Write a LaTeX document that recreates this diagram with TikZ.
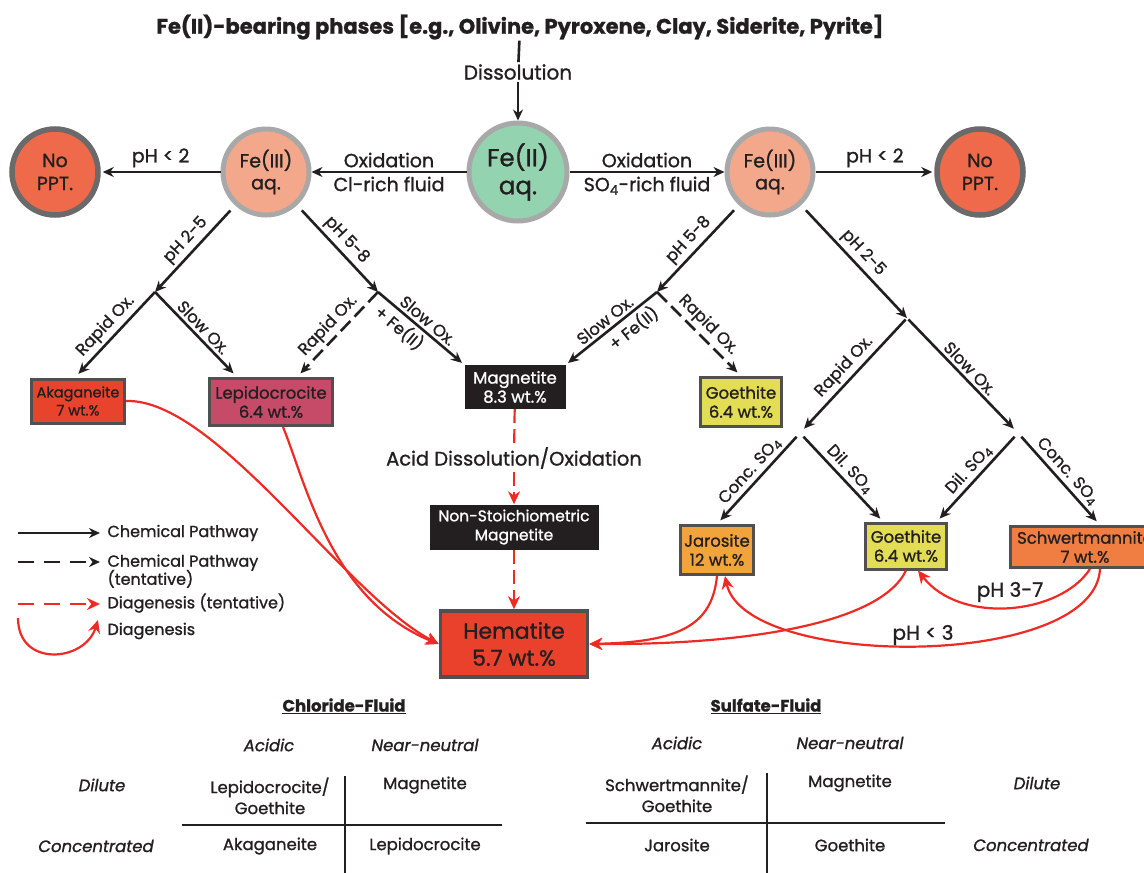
\documentclass[tikz,border=0pt]{standalone}
\usepackage{fontspec}
\setmainfont{Poppins}[FakeBold=1.1]
\usepackage{tikz}
\usetikzlibrary{arrows, arrows.meta, positioning}

\definecolor{ink}{HTML}{231F20}
\definecolor{redline}{HTML}{EE2A24}
\definecolor{ringgray}{HTML}{A8A8A8}
\definecolor{darkring}{HTML}{6A6A6A}
\definecolor{boxgray}{HTML}{505050}
\definecolor{fegreen}{HTML}{93D3B0}
\definecolor{salmon}{HTML}{F4A88B}
\definecolor{noppt}{HTML}{EF6A4A}
\definecolor{akared}{HTML}{E8432D}
\definecolor{lepred}{HTML}{C54B68}
\definecolor{goeyel}{HTML}{E2DD55}
\definecolor{jarora}{HTML}{F2A43C}
\definecolor{schora}{HTML}{F07E43}
\definecolor{hemred}{HTML}{E9412B}

\newcommand{\fsTitle}{\fontsize{21}{24}\selectfont}
\newcommand{\fsMid}{\fontsize{19}{22}\selectfont}
\newcommand{\fsSlope}{\fontsize{16.5}{19}\selectfont}
\newcommand{\fsBox}{\fontsize{16.5}{19}\selectfont}
\newcommand{\fsLeg}{\fontsize{16}{18}\selectfont}
\newcommand{\fsTab}{\fontsize{16.5}{21}\selectfont}

\tikzset{>=stealth,
  chem/.style={->, line width=2.6pt, draw=ink, >={Stealth[length=11pt,width=10pt]}},
  chemdash/.style={chem, dash pattern=on 14pt off 6pt},
  diag/.style={->, line width=2.2pt, draw=redline, >={Stealth[length=13pt,width=12pt]}},
  diagdash/.style={diag, dash pattern=on 14pt off 6pt},
  phase/.style={circle, line width=5pt, minimum size=86pt, inner sep=0pt, align=center, font=\fsMid},
  mineral/.style={rectangle, line width=3pt, draw=boxgray, align=center, inner sep=0pt, font=\fsBox},
  blackbox/.style={rectangle, fill=ink, text=white, align=center, inner sep=0pt, font=\fsBox},
  lbl/.style={font=\fsSlope, sloped, above, inner sep=3pt},
  legtxt/.style={font=\fsLeg, anchor=west, align=left},
  tabtxt/.style={font=\fsTab, align=center}
}

\begin{document}
\begin{tikzpicture}[x=1pt, y=-1pt, text=ink]
\useasboundingbox[fill=white] (0,0) rectangle (1144,873);

% source and dissolution
\node[inner sep=1pt] (title) at (520,27) {\fsTitle\bfseries Fe(II)-bearing phases [e.g., Olivine, Pyroxene, Clay, Siderite, Pyrite]};
\node[font=\fontsize{20}{22}\selectfont, inner sep=2pt] (diss) at (518,72) {Dissolution};

% aqueous iron
\node[phase, fill=fegreen, draw=ringgray, minimum size=98pt, font=\fontsize{24.5}{28}\selectfont] (feII) at (518,172) {Fe(II)\\aq.};
\node[phase, fill=salmon, draw=ringgray] (feL) at (266,172) {Fe(III)\\aq.};
\node[phase, fill=salmon, draw=ringgray] (feR) at (770,172) {Fe(III)\\aq.};
\node[phase, fill=noppt, draw=darkring, line width=5.5pt, font=\fontsize{19}{23}\selectfont] (npL) at (55,172) {No\\PPT.};
\node[phase, fill=noppt, draw=darkring, line width=5.5pt, font=\fontsize{19}{23}\selectfont] (npR) at (980,172) {No\\PPT.};

% minerals
\node[mineral, fill=akared, minimum width=93pt, minimum height=44pt, font=\fontsize{14.5}{18}\selectfont] (aka) at (78,401) {Akaganeite\\7 wt.\%};
\node[mineral, fill=lepred, minimum width=123pt, minimum height=47pt] (lep) at (271,402) {Lepidocrocite\\6.4 wt.\%};
\node[blackbox, minimum width=101pt, minimum height=44pt] (mag) at (515,387) {Magnetite\\8.3 wt.\%};
\node[mineral, fill=goeyel, minimum width=81pt, minimum height=49pt] (gth1) at (741,402) {Goethite\\6.4 wt.\%};
\node[font=\fontsize{19.5}{22}\selectfont] (acid) at (514,458) {Acid Dissolution/Oxidation};
\node[blackbox, minimum width=169pt, minimum height=45pt, font=\fontsize{15.5}{19}\selectfont] (nsm) at (514,527) {Non-Stoichiometric\\Magnetite};
\node[mineral, fill=hemred, minimum width=147pt, minimum height=66pt, line width=3.5pt, font=\fontsize{22}{27}\selectfont] (hem) at (514,644) {Hematite\\5.7 wt.\%};
\node[mineral, fill=jarora, minimum width=73pt, minimum height=49pt] (jar) at (717,550) {Jarosite\\12 wt.\%};
\node[mineral, fill=goeyel, minimum width=81pt, minimum height=46pt] (gth2) at (906,546) {Goethite\\6.4 wt.\%};
\node[mineral, fill=schora, minimum width=150pt, minimum height=41pt] (sch) at (1085,547) {Schwertmannite\\7 wt.\%};

% top pathways
\draw[line width=2.6pt, draw=ink] (title) -- (diss);
\draw[chem] (diss) -- (feII);
\draw[chem] (feII) -- node[above, font=\fsMid]{Oxidation} node[below, font=\fsMid]{Cl-rich fluid} (feL);
\draw[chem] (feII) -- node[above, font=\fsMid]{Oxidation} node[below, font=\fsMid]{SO\textsubscript{4}-rich fluid} (feR);
\draw[chem, shorten >=2pt] (feL) -- node[above, font=\fsMid]{pH < 2} (npL);
\draw[chem, shorten >=2pt] (feR) -- node[above, font=\fsMid]{pH < 2} (npR);

% chloride branch
\coordinate (jLa) at (155,292);
\coordinate (jLb) at (378,292);
\draw[chem, shorten <=7pt] (feL) -- node[lbl]{pH 2-5} (jLa);
\draw[chem, shorten <=7pt] (feL) -- node[lbl]{pH 5-8} (jLb);
\draw[chem, shorten >=5pt] (jLa) -- node[lbl]{Rapid Ox.} ([xshift=-3pt]aka.north);
\draw[chem, shorten >=5pt] (jLa) -- node[lbl]{Slow Ox.} ([xshift=-34pt]lep.north);
\draw[chemdash, shorten >=5pt] (jLb) -- node[lbl]{Rapid Ox.} ([xshift=26pt]lep.north);
\draw[chem, shorten >=3pt] (jLb) -- node[lbl]{Slow Ox.} node[lbl, below, pos=0.35]{+ Fe(II)} (mag.north west);

% sulfate branch
\coordinate (jRa) at (657,292);
\coordinate (jRb) at (907,318);
\coordinate (jRc) at (800,433);
\coordinate (jRd) at (1018,433);
\draw[chem, shorten <=7pt] (feR) -- node[lbl]{pH 5-8} (jRa);
\draw[chem, shorten <=7pt] (feR) -- node[lbl]{pH 2-5} (jRb);
\draw[chem, shorten >=3pt] (jRa) -- node[lbl]{Slow Ox.} node[lbl, below, pos=0.35]{+ Fe(II)} (mag.north east);
\draw[chemdash, shorten >=5pt] (jRa) -- node[lbl]{Rapid Ox.} (gth1.north);
\draw[chem, shorten <=2pt, shorten >=6pt] (jRb) -- node[lbl]{Rapid Ox.} (jRc);
\draw[chem, shorten <=2pt, shorten >=6pt] (jRb) -- node[lbl]{Slow Ox.} (jRd);
\draw[chem, shorten <=5pt, shorten >=5pt] (jRc) -- node[lbl]{Conc. SO\textsubscript{4}} (jar.north);
\draw[chem, shorten <=5pt, shorten >=4pt] (jRc) -- node[lbl]{Dil. SO\textsubscript{4}} ([xshift=-23pt]gth2.north);
\draw[chem, shorten <=5pt, shorten >=4pt] (jRd) -- node[lbl]{Dil. SO\textsubscript{4}} ([xshift=31pt]gth2.north);
\draw[chem, shorten <=5pt, shorten >=5pt] (jRd) -- node[lbl]{Conc. SO\textsubscript{4}} ([xshift=15pt]sch.north);

% diagenesis
\draw[diagdash, -] (mag) -- (acid);
\draw[diagdash] (acid) -- (nsm);
\draw[diagdash] (nsm) -- (hem);
\draw[diag] (aka.east) .. controls (215,398) and (345,595) .. (hem.west);
\draw[diag] ([xshift=12pt]lep.south) .. controls (305,480) and (330,600) .. (hem.west);
\draw[diag] (jar.south) .. controls (712,625) and (680,642) .. (hem.east);
\draw[diag] (gth2.south) .. controls (880,625) and (740,645) .. (hem.east);
\draw[diag] ([xshift=5pt]sch.south) .. controls (1060,615) and (960,625) .. ([xshift=12pt]gth2.south);
\draw[diag] ([xshift=15pt]sch.south) .. controls (1095,670) and (745,670) .. ([xshift=8pt]jar.south);
\node[font=\fontsize{20}{22}\selectfont] (ph37) at (1010,592) {pH 3-7};
\node[font=\fontsize{20}{22}\selectfont] (ph3) at (923,635) {pH < 3};

% legend
\coordinate (lgA1) at (18,533); \coordinate (lgA2) at (100,533);
\coordinate (lgB1) at (18,562); \coordinate (lgB2) at (100,562);
\coordinate (lgC1) at (18,604); \coordinate (lgC2) at (100,604);
\coordinate (lgD1) at (18,618); \coordinate (lgD2) at (98,620);
\draw[chem] (lgA1) -- (lgA2);
\draw[chem, dash pattern=on 16pt off 10pt] (lgB1) -- (lgB2);
\draw[diag, dash pattern=on 16pt off 10pt] (lgC1) -- (lgC2);
\draw[diag] (lgD1) .. controls (18,668) and (85,662) .. (lgD2);
\node[legtxt] (lgtA) at (104,533) {Chemical Pathway};
\node[legtxt, anchor=north west] (lgtB) at (104,551) {Chemical Pathway\\[-2pt](tentative)};
\node[legtxt] (lgtC) at (104,603) {Diagenesis (tentative)};
\node[legtxt] (lgtD) at (104,631) {Diagenesis};

% chloride table
\node[tabtxt] (clh) at (344,706) {\underline{\bfseries Chloride-Fluid}};
\node[tabtxt] (cla) at (269,745) {\itshape Acidic};
\node[tabtxt] (cln) at (425,745) {\itshape Near-neutral};
\node[tabtxt] (cld) at (102,785) {\itshape Dilute};
\node[tabtxt, anchor=north] (cl1) at (270,774) {Lepidocrocite/\\Goethite};
\node[tabtxt] (cl2) at (425,785) {Magnetite};
\node[tabtxt] (clc) at (96,846) {\itshape Concentrated};
\node[tabtxt] (cl3) at (270,846) {Akaganeite};
\node[tabtxt] (cl4) at (425,846) {Lepidocrocite};
\coordinate (clH1) at (182,825); \coordinate (clH2) at (502,825);
\coordinate (clV1) at (345,776); \coordinate (clV2) at (345,873);
\draw[line width=2.8pt, draw=ink] (clH1) -- (clH2);
\draw[line width=2.8pt, draw=ink] (clV1) -- (clV2);

% sulfate table
\node[tabtxt] (soh) at (766,706) {\underline{\bfseries Sulfate-Fluid}};
\node[tabtxt] (soa) at (677,743) {\itshape Acidic};
\node[tabtxt] (son) at (850,743) {\itshape Near-neutral};
\node[tabtxt, anchor=north] (so1) at (677,772) {Schwertmannite/\\Goethite};
\node[tabtxt] (so2) at (850,783) {Magnetite};
\node[tabtxt] (sod) at (1037,783) {\itshape Dilute};
\node[tabtxt] (so3) at (677,845) {Jarosite};
\node[tabtxt] (so4) at (850,845) {Goethite};
\node[tabtxt] (soc) at (1031,845) {\itshape Concentrated};
\coordinate (soH1) at (586,823); \coordinate (soH2) at (945,823);
\coordinate (soV1) at (767,773); \coordinate (soV2) at (767,873);
\draw[line width=2.8pt, draw=ink] (soH1) -- (soH2);
\draw[line width=2.8pt, draw=ink] (soV1) -- (soV2);
\end{tikzpicture}
\end{document}
